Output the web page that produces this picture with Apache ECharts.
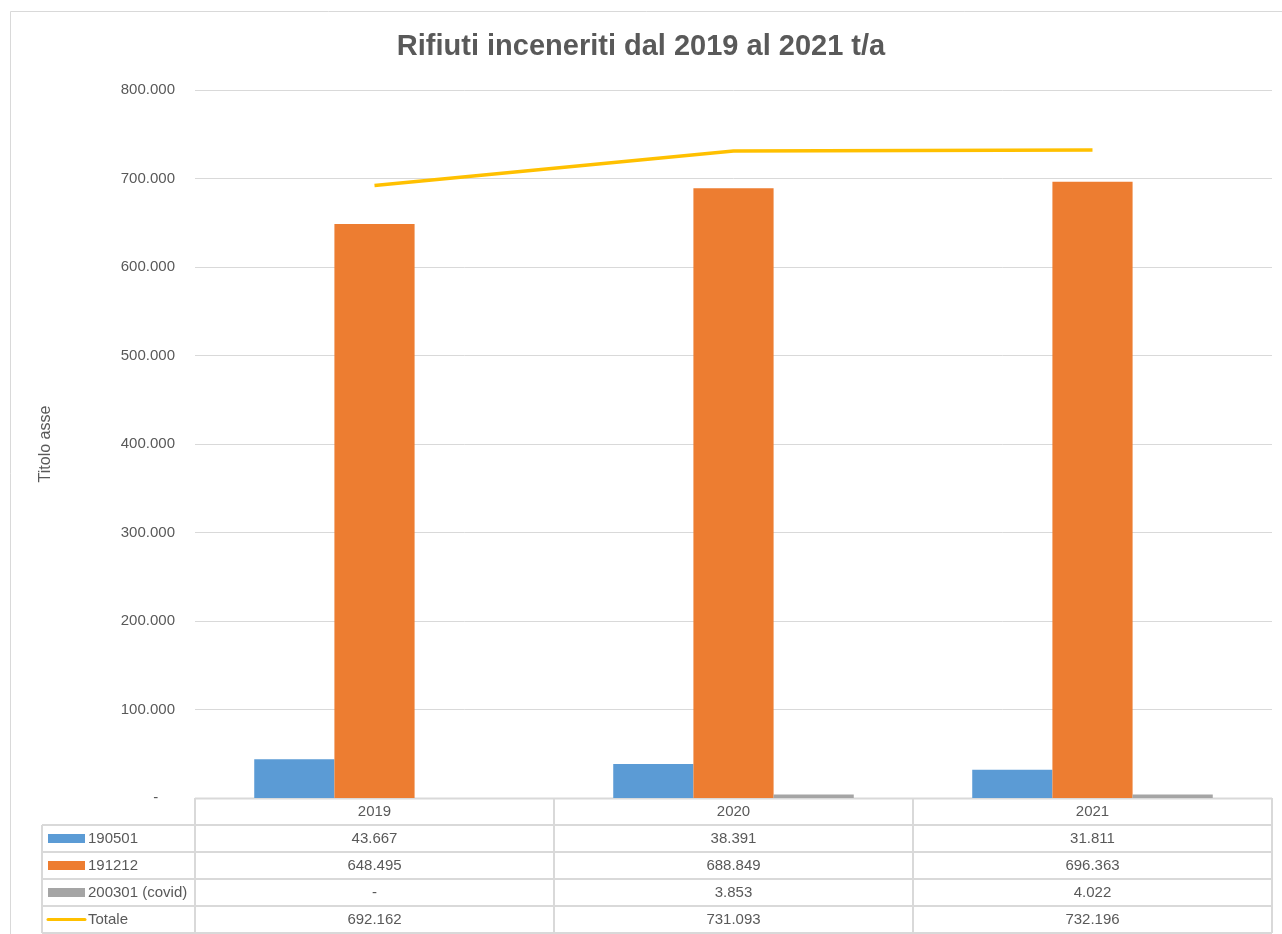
<!DOCTYPE html>
<html lang="it">
<head>
    <meta charset="UTF-8">
    <title>Rifiuti inceneriti</title>
    <script src="https://cdn.jsdelivr.net/npm/echarts@6/dist/echarts.min.js"></script>
    <style>
        html, body { margin: 0; padding: 0; background: #fff; }
        #chart { width: 1282px; height: 934px; }
    </style>
</head>
<body>
<div id="chart"></div>
<script type="text/javascript">
    var anni = ['2019', '2020', '2021'];
    var serieNomi = ['190501', '191212', '200301 (covid)', 'Totale'];
    var v190501 = [43667, 38391, 31811];
    var v191212 = [648495, 688849, 696363];
    var v200301 = [0, 3853, 4022];
    var totale = [692162, 731093, 732196];
    var colori = ['#5B9BD5', '#ED7D31', '#A5A5A5', '#FFC000'];

    var chartDom = document.getElementById('chart');
    var myChart = echarts.init(chartDom);
    var font = 'Liberation Sans, Arial, sans-serif';
    var testo = '#595959';
    var bordo = '#D9D9D9';

    // layout of plot / table
    var gLeft = 195, gRight = 1272, gTop = 90, gBottom = 798;
    var rowH = 27, tabLeft = 42;

    function fmt(v) {
        if (!v) return '-';
        return String(v).replace(/\B(?=(\d{3})+(?!\d))/g, '.');
    }

    var righe = [v190501, v191212, v200301, totale];
    var catW = (gRight - gLeft) / anni.length;
    var g = [];
    // frame
    g.push({ type: 'rect', shape: { x: 10.5, y: 11.5, width: 1300, height: 1000 },
        style: { fill: 'none', stroke: bordo, lineWidth: 1 }, silent: true });
    // table horizontal lines
    g.push({ type: 'line', shape: { x1: gLeft, y1: gBottom + 0.5, x2: gRight, y2: gBottom + 0.5 },
        style: { stroke: bordo, lineWidth: 2 } });
    for (var r = 1; r <= righe.length + 1; r++) {
        var y = gBottom + r * rowH;
        g.push({ type: 'line', shape: { x1: tabLeft, y1: y, x2: gRight, y2: y },
            style: { stroke: bordo, lineWidth: 2 } });
    }
    // vertical lines
    g.push({ type: 'line', shape: { x1: tabLeft, y1: gBottom + rowH, x2: tabLeft, y2: gBottom + rowH * 5 },
        style: { stroke: bordo, lineWidth: 2 } });
    for (var c = 0; c <= anni.length; c++) {
        var x = gLeft + c * catW;
        g.push({ type: 'line', shape: { x1: x, y1: gBottom, x2: x, y2: gBottom + rowH * 5 },
            style: { stroke: bordo, lineWidth: 2 } });
    }
    // header years
    anni.forEach(function (a, i) {
        g.push({ type: 'text', x: gLeft + catW * (i + 0.5), y: gBottom + rowH / 2,
            style: { text: a, font: '15px ' + font, fill: testo, align: 'center', verticalAlign: 'middle' } });
    });
    // rows
    righe.forEach(function (vals, r) {
        var cy = gBottom + rowH * (r + 1.5);
        if (r < 3) {
            g.push({ type: 'rect', shape: { x: 48, y: cy - 4.5, width: 37, height: 9 },
                style: { fill: colori[r] } });
        } else {
            g.push({ type: 'line', shape: { x1: 48, y1: cy, x2: 85, y2: cy },
                style: { stroke: colori[r], lineWidth: 3, lineCap: 'round' } });
        }
        g.push({ type: 'text', x: 88, y: cy,
            style: { text: serieNomi[r], font: '15px ' + font, fill: testo, align: 'left', verticalAlign: 'middle' } });
        vals.forEach(function (v, i) {
            g.push({ type: 'text', x: gLeft + catW * (i + 0.5), y: cy,
                style: { text: fmt(v), font: '15px ' + font, fill: testo, align: 'center', verticalAlign: 'middle' } });
        });
    });

    var option = {
        backgroundColor: '#fff',
        animation: false,
        title: {
            text: 'Rifiuti inceneriti dal 2019 al 2021 t/a',
            left: 'center',
            top: 27,
            textStyle: { fontFamily: font, fontSize: 29, fontWeight: 'bold', color: testo }
        },
        grid: { left: gLeft, right: 1282 - gRight, top: gTop, bottom: 934 - gBottom },
        xAxis: {
            type: 'category',
            data: anni,
            axisLine: { show: false },
            axisTick: { show: false },
            axisLabel: { show: false }
        },
        yAxis: {
            type: 'value',
            min: 0,
            max: 800000,
            interval: 100000,
            name: 'Titolo asse',
            nameLocation: 'middle',
            nameRotate: 90,
            nameGap: 141,
            nameTextStyle: { fontFamily: font, fontSize: 16, color: testo },
            axisLabel: {
                fontFamily: font, fontSize: 15, color: testo, margin: 20,
                formatter: function (v) { return v === 0 ? '-    ' : fmt(v); }
            },
            splitLine: { lineStyle: { color: bordo, width: 1 } }
        },
        series: [
            { name: serieNomi[0], type: 'bar', data: v190501, itemStyle: { color: colori[0] },
              barGap: '0%', barCategoryGap: '33%' },
            { name: serieNomi[1], type: 'bar', data: v191212, itemStyle: { color: colori[1] } },
            { name: serieNomi[2], type: 'bar', data: v200301, itemStyle: { color: colori[2] } },
            { name: serieNomi[3], type: 'line', data: totale, showSymbol: false,
              lineStyle: { color: colori[3], width: 3.5 }, itemStyle: { color: colori[3] } }
        ],
        graphic: g
    };

    myChart.setOption(option);
</script>
</body>
</html>
